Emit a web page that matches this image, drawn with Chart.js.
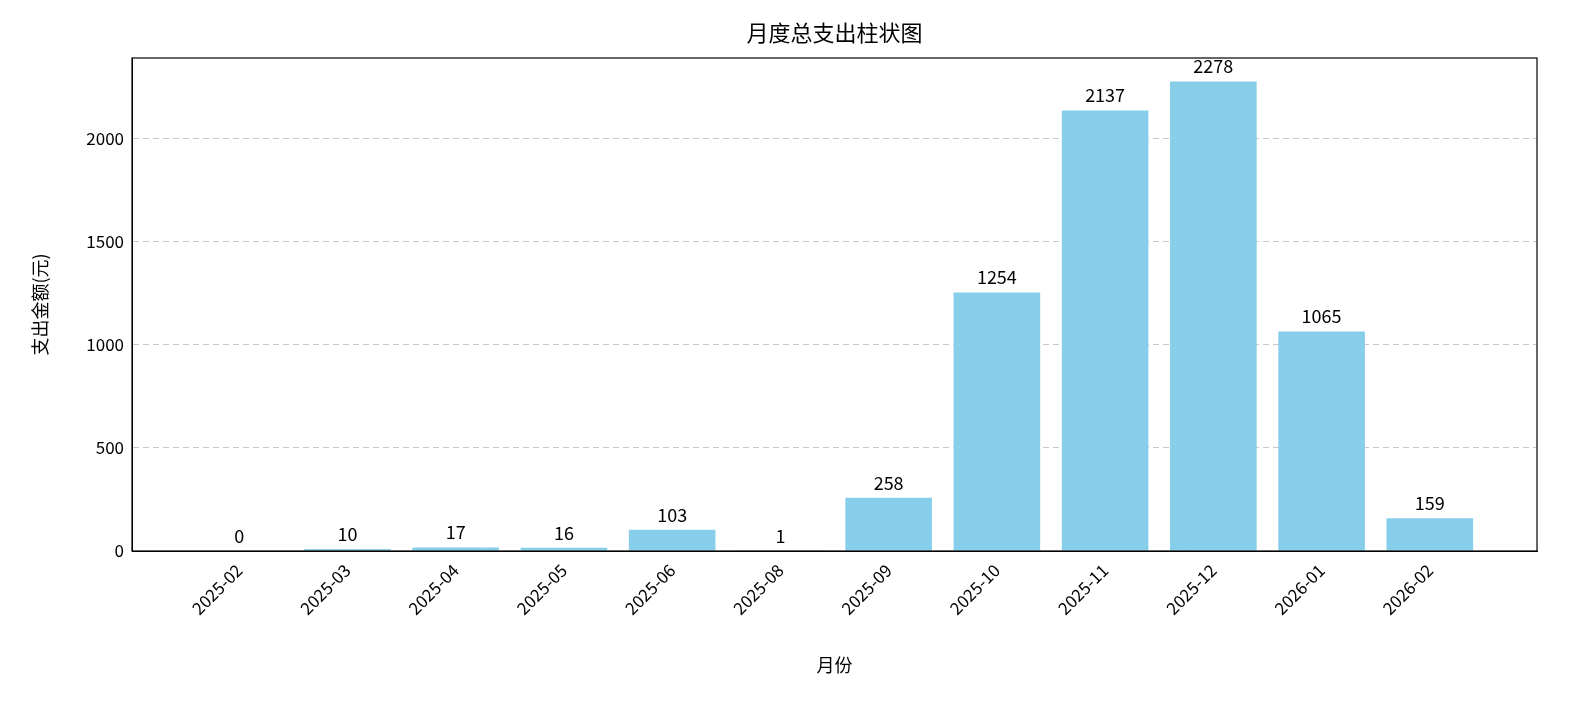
<!DOCTYPE html>
<html>
<head>
<meta charset="utf-8">
<script src="https://cdn.jsdelivr.net/npm/chart.js@4"></script>
<style>
  html, body { margin: 0; padding: 0; background: #fff; }
  canvas { display: block; }
</style>
</head>
<body>
<canvas id="chart" width="1585" height="704"></canvas>
<script>
// data
const months = ['2025-02','2025-03','2025-04','2025-05','2025-06','2025-08','2025-09','2025-10','2025-11','2025-12','2026-01','2026-02'];
const totals = [0, 10, 17, 16, 103, 1, 258, 1254, 2137, 2278, 1065, 159];
const yTicks = [0, 500, 1000, 1500, 2000];

const FONT = '"Noto Sans CJK SC", "DejaVu Sans", sans-serif';

// value labels, frame, title and axis titles
const extras = {
  id: 'extras',
  afterDatasetsDraw(chart){
    const ctx = chart.ctx;
    const meta = chart.getDatasetMeta(0);
    ctx.save();
    ctx.fillStyle = '#000';
    ctx.font = '18px ' + FONT;
    ctx.textAlign = 'center';
    ctx.textBaseline = 'bottom';
    meta.data.forEach((bar, i) => {
      ctx.fillText(String(totals[i]), bar.x, bar.y - 6);
    });
    const a = chart.chartArea;
    ctx.strokeStyle = '#000';
    ctx.lineWidth = 1.2;
    ctx.strokeRect(a.left, a.top, a.right - a.left, a.bottom - a.top);
    ctx.textBaseline = 'middle';
    ctx.font = '22px ' + FONT;
    ctx.fillText('月度总支出柱状图', (a.left + a.right) / 2, 33);
    ctx.font = '18px ' + FONT;
    ctx.fillText('月份', (a.left + a.right) / 2, 665);
    ctx.translate(40, (a.top + a.bottom) / 2);
    ctx.rotate(-Math.PI / 2);
    ctx.fillText('支出金额(元)', 0, 0);
    ctx.restore();
  }
};

new Chart(document.getElementById('chart'), {
  type: 'bar',
  data: {
    datasets: [{
      data: totals.map((v, i) => ({ x: i, y: v })),
      backgroundColor: '#87ceeb',
      barPercentage: 0.8,
      categoryPercentage: 1.0
    }]
  },
  options: {
    responsive: false,
    devicePixelRatio: 1,
    animation: false,
    layout: { padding: { left: 0, right: 48, top: 58, bottom: 0 } },
    plugins: { legend: { display: false }, tooltip: { enabled: false } },
    scales: {
      x: {
        type: 'linear',
        offset: false,
        min: -0.99,
        max: 11.99,
        afterBuildTicks: s => { s.ticks = months.map((m, i) => ({ value: i })); },
        afterFit: s => { s.height = 153; },
        grid: { display: false, offset: false, drawTicks: true, tickLength: 6 },
        border: { color: '#000' },
        ticks: {
          color: '#000',
          font: { family: FONT, size: 17 },
          maxRotation: 45,
          minRotation: 45,
          autoSkip: false,
          callback: v => months[v]
        }
      },
      y: {
        min: 0,
        max: 2392,
        afterBuildTicks: s => { s.ticks = yTicks.map(v => ({ value: v })); },
        afterFit: s => { s.width = 132; },
        grid: {
          color: ctx => ctx.tick && ctx.tick.value === 0 ? 'rgba(0,0,0,0)' : '#c8c8c8',
          tickLength: 0
        },
        border: { color: '#000', dash: [6, 4] },
        ticks: { color: '#000', font: { family: FONT, size: 17 }, padding: 8, callback: v => String(v) }
      }
    }
  },
  plugins: [extras]
});
</script>
</body>
</html>
